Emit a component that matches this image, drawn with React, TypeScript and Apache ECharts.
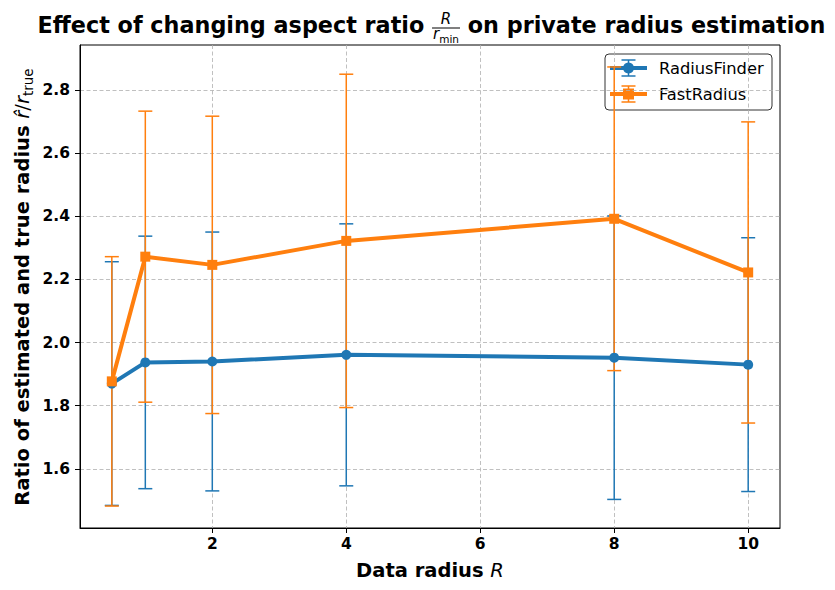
import React, { useEffect, useRef } from "react";
import * as echarts from "echarts";

// ---- data ----
const xValues = [0.5, 1, 2, 4, 8, 10];
const radiusFinderMean = [1.87, 1.937, 1.94, 1.961, 1.952, 1.93];
const radiusFinderErr = [0.386, 0.4, 0.41, 0.415, 0.449, 0.402];
const fastRadiusMean = [1.877, 2.272, 2.246, 2.322, 2.392, 2.222];
const fastRadiusErr = [0.395, 0.461, 0.471, 0.528, 0.481, 0.477];
const xTicks = [2, 4, 6, 8, 10];
const yTicks = [1.6, 1.8, 2.0, 2.2, 2.4, 2.6, 2.8];
const seriesNames = ["RadiusFinder", "FastRadius"];

const BLUE = "#1f77b4";
const ORANGE = "#ff7f0e";
const FONT = "'DejaVu Sans', 'Liberation Sans', sans-serif";

const makeErrRender = (color: string) => (params: any, api: any) => {
  const x = api.value(0);
  const lo = api.value(1);
  const hi = api.value(2);
  const a = api.coord([x, lo]);
  const b = api.coord([x, hi]);
  const cap = 7;
  const style = { stroke: color, lineWidth: 1.5, fill: "none" };
  return {
    type: "group",
    children: [
      { type: "line", shape: { x1: a[0], y1: a[1], x2: b[0], y2: b[1] }, style },
      { type: "line", shape: { x1: a[0] - cap, y1: a[1], x2: a[0] + cap, y2: a[1] }, style },
      { type: "line", shape: { x1: b[0] - cap, y1: b[1], x2: b[0] + cap, y2: b[1] }, style },
    ],
  };
};

export default function App() {
  const ref = useRef<HTMLDivElement>(null);

  useEffect(() => {
    document.body.style.margin = "0";
    const el = ref.current!;
    const chart = echarts.init(el, null, { renderer: "svg" });

    // axis ranges with 5% margins (matplotlib style)
    const xMinD = Math.min(...xValues);
    const xMaxD = Math.max(...xValues);
    const xPad = (xMaxD - xMinD) * 0.05;
    const lows = [
      ...radiusFinderMean.map((m, i) => m - radiusFinderErr[i]),
      ...fastRadiusMean.map((m, i) => m - fastRadiusErr[i]),
    ];
    const highs = [
      ...radiusFinderMean.map((m, i) => m + radiusFinderErr[i]),
      ...fastRadiusMean.map((m, i) => m + fastRadiusErr[i]),
    ];
    const yMinD = Math.min(...lows);
    const yMaxD = Math.max(...highs);
    const yPad = (yMaxD - yMinD) * 0.05;

    // title layout measurement
    const ctx = document.createElement("canvas").getContext("2d")!;
    const titleFs = 22.3;
    ctx.font = `bold ${titleFs}px 'DejaVu Sans'`;
    const titleLeft = "Effect of changing aspect ratio";
    const titleRight = "on private radius estimation";
    const wL = ctx.measureText(titleLeft).width;
    const wR = ctx.measureText(titleRight).width;
    const wSp = ctx.measureText(" ").width;
    ctx.font = `italic 15px 'DejaVu Sans'`;
    const wr = ctx.measureText("r").width;
    ctx.font = `10.5px 'DejaVu Sans'`;
    const wmin = ctx.measureText("min").width;
    const fracW = wr + wmin + 2;
    const total = wL + wSp + fracW + wSp + wR;
    const start = 431.5 - total / 2;
    const fracL = start + wL + wSp;
    const fracC = fracL + fracW / 2;
    const rightStart = fracL + fracW + wSp;

    const titleBase = 33;
    const mid = (base: number, fs: number) => base - 0.346 * fs;

    const legendRows = [68, 94];
    const legendColors = [BLUE, ORANGE];
    const legendSymbols = ["circle", "rect"];

    const legendChildren: any[] = [
      {
        type: "rect",
        shape: { x: 605, y: 54, width: 167, height: 56, r: 4 },
        style: { fill: "rgba(255,255,255,0.8)", stroke: "#333", lineWidth: 1 },
      },
    ];
    legendRows.forEach((y, i) => {
      const c = legendColors[i];
      const mx = 628.5;
      legendChildren.push(
        { type: "line", shape: { x1: mx, y1: y - 8, x2: mx, y2: y + 8 }, style: { stroke: c, lineWidth: 1.5 } },
        { type: "line", shape: { x1: mx - 7, y1: y - 8, x2: mx + 7, y2: y - 8 }, style: { stroke: c, lineWidth: 1.5 } },
        { type: "line", shape: { x1: mx - 7, y1: y + 8, x2: mx + 7, y2: y + 8 }, style: { stroke: c, lineWidth: 1.5 } },
        { type: "line", shape: { x1: 610, y1: y, x2: 647, y2: y }, style: { stroke: c, lineWidth: 4 } },
        legendSymbols[i] === "circle"
          ? { type: "circle", shape: { cx: mx, cy: y, r: 5.5 }, style: { fill: c } }
          : { type: "rect", shape: { x: mx - 5.5, y: y - 5.5, width: 11, height: 11 }, style: { fill: c } },
        {
          type: "text",
          x: 659,
          y: y,
          style: {
            text: seriesNames[i],
            fontSize: 16.3,
            fontFamily: FONT,
            fill: "#000",
            align: "left",
            verticalAlign: "middle",
          },
        }
      );
    });

    const option: any = {
      animation: false,
      backgroundColor: "#fff",
      grid: {
        left: 80,
        right: 55,
        top: 45,
        bottom: 62,
        show: true,
        borderColor: "#000",
        borderWidth: 1,
        backgroundColor: "#fff",
        z: 0,
      },
      xAxis: {
        type: "value",
        min: xMinD - xPad,
        max: xMaxD + xPad,
        axisLine: { show: true, lineStyle: { color: "#000", width: 1 } },
        axisTick: { show: true, customValues: xTicks, length: 5, lineStyle: { color: "#000", width: 1 } },
        axisLabel: {
          customValues: xTicks,
          color: "#000",
          fontSize: 15.5,
          fontWeight: "bold",
          fontFamily: FONT,
          margin: 8,
          formatter: (v: number) => String(v),
        },
        splitLine: { show: true, lineStyle: { color: "#b0b0b0", type: [4, 2.5], width: 0.8 } },
      },
      yAxis: {
        type: "value",
        min: yMinD - yPad,
        max: yMaxD + yPad,
        axisLine: { show: true, lineStyle: { color: "#000", width: 1 } },
        axisTick: { show: true, customValues: yTicks, length: 5, lineStyle: { color: "#000", width: 1 } },
        axisLabel: {
          customValues: yTicks,
          color: "#000",
          fontSize: 15.5,
          fontWeight: "bold",
          fontFamily: FONT,
          margin: 10,
          formatter: (v: number) => v.toFixed(1),
        },
        splitLine: { show: true, lineStyle: { color: "#b0b0b0", type: [4, 2.5], width: 0.8 } },
      },
      series: [
        {
          type: "custom",
          name: seriesNames[0] + " err",
          renderItem: makeErrRender(BLUE),
          data: xValues.map((x, i) => [x, radiusFinderMean[i] - radiusFinderErr[i], radiusFinderMean[i] + radiusFinderErr[i]]),
          encode: { x: 0, y: [1, 2] },
          silent: true,
          z: 2,
        },
        {
          type: "custom",
          name: seriesNames[1] + " err",
          renderItem: makeErrRender(ORANGE),
          data: xValues.map((x, i) => [x, fastRadiusMean[i] - fastRadiusErr[i], fastRadiusMean[i] + fastRadiusErr[i]]),
          encode: { x: 0, y: [1, 2] },
          silent: true,
          z: 3,
        },
        {
          type: "line",
          name: seriesNames[0],
          data: xValues.map((x, i) => [x, radiusFinderMean[i]]),
          symbol: "circle",
          symbolSize: 10,
          showSymbol: true,
          lineStyle: { color: BLUE, width: 4 },
          itemStyle: { color: BLUE },
          silent: true,
          z: 4,
        },
        {
          type: "line",
          name: seriesNames[1],
          data: xValues.map((x, i) => [x, fastRadiusMean[i]]),
          symbol: "rect",
          symbolSize: 10,
          showSymbol: true,
          lineStyle: { color: ORANGE, width: 4 },
          itemStyle: { color: ORANGE },
          silent: true,
          z: 5,
        },
      ],
      graphic: [
        // title
        {
          type: "text",
          x: start,
          y: mid(titleBase, titleFs),
          style: { text: titleLeft, fontSize: titleFs, fontWeight: "bold", fontFamily: FONT, fill: "#000", align: "left", verticalAlign: "middle" },
        },
        {
          type: "text",
          x: fracC,
          y: mid(24, 15),
          style: { text: "R", fontSize: 15, fontStyle: "italic", fontFamily: FONT, fill: "#000", align: "center", verticalAlign: "middle" },
        },
        {
          type: "line",
          shape: { x1: fracL, y1: 28, x2: fracL + fracW, y2: 28 },
          style: { stroke: "#000", lineWidth: 1 },
        },
        {
          type: "text",
          x: fracL + 1,
          y: mid(39.5, 15),
          style: { text: "r", fontSize: 15, fontStyle: "italic", fontFamily: FONT, fill: "#000", align: "left", verticalAlign: "middle" },
        },
        {
          type: "text",
          x: fracL + 1 + wr,
          y: mid(42.5, 10.5),
          style: { text: "min", fontSize: 10.5, fontFamily: FONT, fill: "#000", align: "left", verticalAlign: "middle" },
        },
        {
          type: "text",
          x: rightStart,
          y: mid(titleBase, titleFs),
          style: { text: titleRight, fontSize: titleFs, fontWeight: "bold", fontFamily: FONT, fill: "#000", align: "left", verticalAlign: "middle" },
        },
        // x axis name
        {
          type: "text",
          x: 430,
          y: 570,
          style: {
            text: "{b|Data radius }{i|R}",
            align: "center",
            verticalAlign: "middle",
            rich: {
              b: { fontSize: 19.5, fontWeight: "bold", fontFamily: FONT, fill: "#000", lineHeight: 24 },
              i: { fontSize: 19.5, fontStyle: "italic", fontFamily: FONT, fill: "#000", lineHeight: 24 },
            },
          },
        },
        // y axis name
        {
          type: "text",
          x: 22,
          y: 287,
          rotation: Math.PI / 2,
          style: {
            text: "{b|Ratio of estimated and true radius }{i|r\u0302}{n|/}{i|r}{s|true}",
            align: "center",
            verticalAlign: "middle",
            rich: {
              b: { fontSize: 19.5, fontWeight: "bold", fontFamily: FONT, fill: "#000", lineHeight: 26 },
              i: { fontSize: 19.5, fontStyle: "italic", fontFamily: FONT, fill: "#000", lineHeight: 26 },
              n: { fontSize: 19.5, fontFamily: FONT, fill: "#000", lineHeight: 26 },
              s: { fontSize: 13.5, fontFamily: FONT, fill: "#000", lineHeight: 26, verticalAlign: "bottom" },
            },
          },
        },
        // legend
        { type: "group", z: 100, children: legendChildren },
      ],
    };

    chart.setOption(option);
    return () => chart.dispose();
  }, []);

  return <div ref={ref} style={{ width: 835, height: 590 }} />;
}
